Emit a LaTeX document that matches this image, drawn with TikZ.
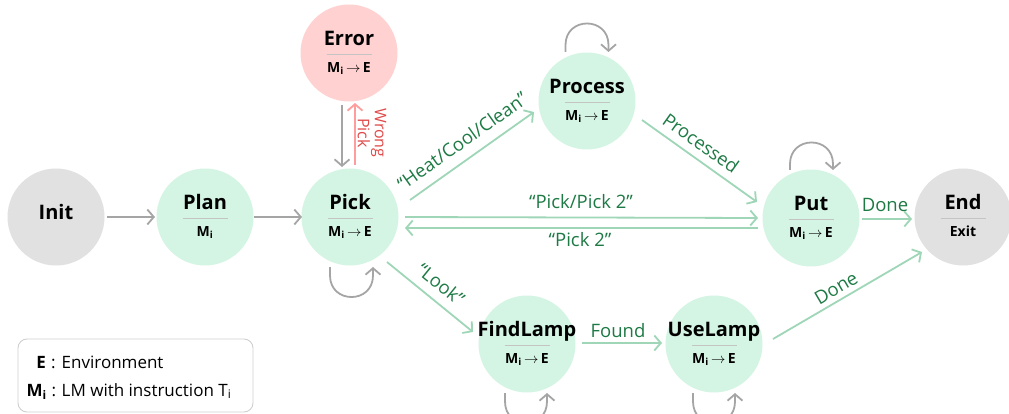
\documentclass[tikz,border=0pt]{standalone}
\usepackage{fontspec}
\setmainfont{Open Sans}
\usetikzlibrary{arrows.meta,calc}
\definecolor{gfill}{HTML}{D5F5E4}
\definecolor{rfill}{HTML}{FFD1D1}
\definecolor{nfill}{HTML}{E1E1E1}
\definecolor{gedge}{HTML}{9ED6B7}
\definecolor{redge}{HTML}{FF9C9C}
\definecolor{gtext}{HTML}{1E7A45}
\definecolor{rtext}{HTML}{E04A4A}
\definecolor{grayedge}{HTML}{A5A5A5}
\definecolor{divc}{HTML}{C4C4C4}
\definecolor{boxc}{HTML}{CFCFCF}
\tikzset{
  state/.style={circle, minimum size=97pt, inner sep=0pt, draw=none},
  gstate/.style={state, fill=gfill},
  rstate/.style={state, fill=rfill},
  nstate/.style={state, fill=nfill},
  ttl/.style={anchor=base, inner sep=0pt, font=\fontsize{20}{22}\selectfont\bfseries},
  subt/.style={anchor=base, inner sep=0pt, font=\fontsize{14}{16}\selectfont\bfseries},
  divider/.style={draw=divc, line width=0.9pt},
  tip/.style={-{Straight Barb[length=6.5pt,width=15pt]}},
  garrow/.style={tip, draw=gedge, line width=1.8pt},
  rarrow/.style={tip, draw=redge, line width=1.8pt},
  grarrow/.style={tip, draw=grayedge, line width=1.8pt},
  lbl/.style={inner sep=0pt, text=gtext, font=\fontsize{18.5}{20}\selectfont},
  rlbl/.style={inner sep=0pt, text=rtext, font=\fontsize{16}{15}\selectfont, align=center},
  legt/.style={inner sep=0pt, font=\fontsize{17}{19}\selectfont},
}
\newcommand\Mi{M\textsubscript{i}}
\newcommand\MiE{M\textsubscript{i}\,$\rightarrow$\,E}
\newcommand\stnode[5]{%
  \node[#3] (#1) at (#2) {};
  \node[ttl] (#1-t) at ($(#1)+(0,-7.5)$) {#4};
  \draw[divider] ($(#1)+(-22.5,1)$) -- ($(#1)+(22.5,1)$);
  \node[subt] (#1-s) at ($(#1)+(0,19.5)$) {#5};
}
\begin{document}
\begin{tikzpicture}[x=1pt,y=-1pt]
\useasboundingbox (0,0) rectangle (1009,414);
% states
\node[nstate] (init) at (56,217) {};
\node[ttl] (init-t) at ($(init)+(0,2)$) {Init};
\stnode{plan}{205,217}{gstate}{Plan}{\Mi}
\stnode{pick}{350,217}{gstate}{Pick}{\MiE}
\stnode{error}{349,53}{rstate}{Error}{\MiE}
\stnode{proc}{587,101}{gstate}{Process}{\MiE}
\stnode{put}{811,218}{gstate}{Put}{\MiE}
\stnode{endn}{963,217}{nstate}{End}{Exit}
\stnode{find}{527,344}{gstate}{FindLamp}{\MiE}
\stnode{use}{714,344}{gstate}{UseLamp}{\MiE}
% straight edges
\draw[grarrow] ($(init)+(51,0)$) -- ($(plan)+(-50,0)$);
\draw[grarrow] ($(plan)+(49,0)$) -- ($(pick)+(-48,0)$);
\draw[grarrow] ($(error)+(-7,52)$) -- ($(pick)+(-8,-50)$);
\draw[rarrow] ($(pick)+(5,-52)$) -- ($(error)+(6,50)$);
\draw[garrow] ($(pick)+(60,-17)$) -- ($(proc)+(-53,11)$);
\draw[garrow] ($(proc)+(55,19)$) -- ($(put)+(-54,-16)$);
\draw[garrow] ($(pick)+(55,0)$) -- ($(put)+(-53,0)$);
\draw[garrow] ($(put)+(-53,10)$) -- ($(pick)+(55,11)$);
\draw[garrow] ($(put)+(51,1)$) -- ($(endn)+(-51,2)$);
\draw[garrow] ($(pick)+(37,45)$) -- ($(find)+(-54,-12)$);
\draw[garrow] ($(find)+(55,-1)$) -- ($(use)+(-52,-1)$);
\draw[garrow] ($(use)+(59,-5)$) -- ($(endn)+(-41,35)$);
% self loops
\draw[grarrow] ($(proc)+(-21.5,-49)$) -- ($(proc)+(-21.5,-56)$)
  .. controls ($(proc)+(-21.5,-84.7)$) and ($(proc)+(21.5,-84.7)$) .. ($(proc)+(21.5,-56)$) -- ($(proc)+(21.5,-49)$);
\draw[grarrow] ($(put)+(-21,-48)$) -- ($(put)+(-21,-54)$)
  .. controls ($(put)+(-21,-82.7)$) and ($(put)+(22,-82.7)$) .. ($(put)+(22,-54)$) -- ($(put)+(22,-48)$);
\draw[grarrow] ($(pick)+(-20,50)$) -- ($(pick)+(-20,58.5)$)
  .. controls ($(pick)+(-20,87.2)$) and ($(pick)+(23,87.2)$) .. ($(pick)+(23,58.5)$) -- ($(pick)+(23,50)$);
\draw[grarrow] ($(find)+(-22,49)$) -- ($(find)+(-22,57.5)$)
  .. controls ($(find)+(-22,86.2)$) and ($(find)+(20,86.2)$) .. ($(find)+(20,57.5)$) -- ($(find)+(20,49)$);
\draw[grarrow] ($(use)+(-21,49)$) -- ($(use)+(-21,57.5)$)
  .. controls ($(use)+(-21,86.2)$) and ($(use)+(21,86.2)$) .. ($(use)+(21,57.5)$) -- ($(use)+(21,49)$);
% edge labels
\node[rlbl, rotate=-90] (lwrong) at (372,133) {Wrong\\Pick};
\node[lbl, rotate=35.4] (lheat) at (462,141) {“Heat/Cool/Clean”};
\node[lbl, rotate=-35.5] (lproc) at (701,143) {Processed};
\node[lbl] (lpp) at (581,202) {“Pick/Pick 2”};
\node[lbl] (lp2) at (580,240) {“Pick 2”};
\node[lbl] (ldone1) at (885,205) {Done};
\node[lbl, rotate=-39.1] (llook) at (441,284) {“Look”};
\node[lbl] (lfound) at (618,331) {Found};
\node[lbl, rotate=30.3] (ldone2) at (836,288) {Done};
% legend
\draw[draw=boxc, line width=0.9pt, rounded corners=9pt] (18,339) rectangle (253,412);
\node[legt, anchor=base east] (k1) at (46,368) {\bfseries E};
\node[legt, anchor=base] (c1) at (53.5,368) {:};
\node[legt, anchor=base west] (v1) at (61.5,368) {Environment};
\node[legt, anchor=base east] (k2) at (47,396) {\bfseries M\textsubscript{i}};
\node[legt, anchor=base] (c2) at (54,396) {:};
\node[legt, anchor=base west] (v2) at (61.5,396) {LM with instruction T\textsubscript{i}};
\end{tikzpicture}
\end{document}
